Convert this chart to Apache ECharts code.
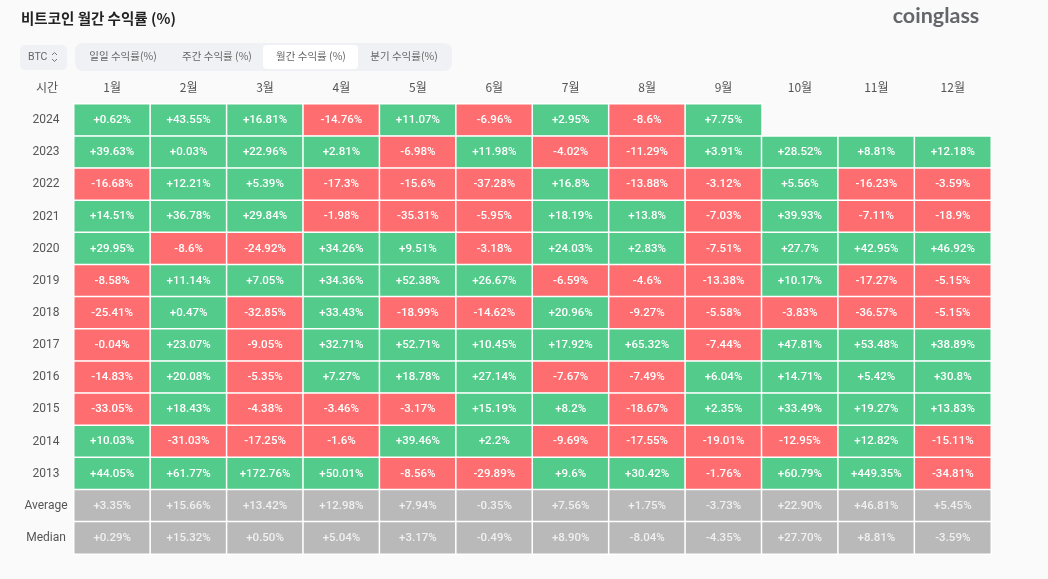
<!DOCTYPE html>
<html>
<head>
<meta charset="utf-8">
<style>
html, body { margin: 0; padding: 0; background: #fafafa; }
#main { width: 1048px; height: 579px; }
</style>
</head>
<body>
<div id="main"></div>
<script src="https://cdn.jsdelivr.net/npm/echarts@6/dist/echarts.min.js"></script>
<script>
var months = ["1월", "2월", "3월", "4월", "5월", "6월", "7월", "8월", "9월", "10월", "11월", "12월"];
var rowNames = ["2024", "2023", "2022", "2021", "2020", "2019", "2018", "2017", "2016", "2015", "2014", "2013", "Average", "Median"];
var tabs = ["일일 수익률(%)", "주간 수익률 (%)", "월간 수익률 (%)", "분기 수익률(%)"];

// 표에 보이는 그대로 (소수점 0 포함) 문자열로 둔다
var r2024 = ["+0.62", "+43.55", "+16.81", "-14.76", "+11.07", "-6.96", "+2.95", "-8.6", "+7.75", null, null, null];
var r2023 = ["+39.63", "+0.03", "+22.96", "+2.81", "-6.98", "+11.98", "-4.02", "-11.29", "+3.91", "+28.52", "+8.81", "+12.18"];
var r2022 = ["-16.68", "+12.21", "+5.39", "-17.3", "-15.6", "-37.28", "+16.8", "-13.88", "-3.12", "+5.56", "-16.23", "-3.59"];
var r2021 = ["+14.51", "+36.78", "+29.84", "-1.98", "-35.31", "-5.95", "+18.19", "+13.8", "-7.03", "+39.93", "-7.11", "-18.9"];
var r2020 = ["+29.95", "-8.6", "-24.92", "+34.26", "+9.51", "-3.18", "+24.03", "+2.83", "-7.51", "+27.7", "+42.95", "+46.92"];
var r2019 = ["-8.58", "+11.14", "+7.05", "+34.36", "+52.38", "+26.67", "-6.59", "-4.6", "-13.38", "+10.17", "-17.27", "-5.15"];
var r2018 = ["-25.41", "+0.47", "-32.85", "+33.43", "-18.99", "-14.62", "+20.96", "-9.27", "-5.58", "-3.83", "-36.57", "-5.15"];
var r2017 = ["-0.04", "+23.07", "-9.05", "+32.71", "+52.71", "+10.45", "+17.92", "+65.32", "-7.44", "+47.81", "+53.48", "+38.89"];
var r2016 = ["-14.83", "+20.08", "-5.35", "+7.27", "+18.78", "+27.14", "-7.67", "-7.49", "+6.04", "+14.71", "+5.42", "+30.8"];
var r2015 = ["-33.05", "+18.43", "-4.38", "-3.46", "-3.17", "+15.19", "+8.2", "-18.67", "+2.35", "+33.49", "+19.27", "+13.83"];
var r2014 = ["+10.03", "-31.03", "-17.25", "-1.6", "+39.46", "+2.2", "-9.69", "-17.55", "-19.01", "-12.95", "+12.82", "-15.11"];
var r2013 = ["+44.05", "+61.77", "+172.76", "+50.01", "-8.56", "-29.89", "+9.6", "+30.42", "-1.76", "+60.79", "+449.35", "-34.81"];
var rAverage = ["+3.35", "+15.66", "+13.42", "+12.98", "+7.94", "-0.35", "+7.56", "+1.75", "-3.73", "+22.90", "+46.81", "+5.45"];
var rMedian = ["+0.29", "+15.32", "+0.50", "+5.04", "+3.17", "-0.49", "+8.90", "-8.04", "-4.35", "+27.70", "+8.81", "-3.59"];

var rows = [r2024, r2023, r2022, r2021, r2020, r2019, r2018, r2017, r2016, r2015, r2014, r2013, rAverage, rMedian];

var GREEN = "#52cb8b", RED = "#fe6e70", GRAY = "#b9b9b9";
var KR = '"Noto Sans CJK KR", sans-serif';
var NUM = 'Roboto, "Noto Sans CJK KR", sans-serif';

// 히트맵 데이터 만들기
var cells = [];
rows.forEach(function(row, y) {
    row.forEach(function(v, x) {
        if (v === null) return;
        var color = y >= 12 ? GRAY : (v.charAt(0) === "+" ? GREEN : RED);
        cells.push({
            value: [x, y, Number(v)],
            text: v + "%",
            itemStyle: { color: color },
            label: { color: y >= 12 ? "#f0f0f0" : "#fff" }
        });
    });
});

// 상단 툴바
var graphics = [
    { type: "rect", shape: { x: 20, y: 45, width: 47, height: 25, r: 5 }, style: { fill: "#eff1f4" } },
    { type: "text", style: { x: 28, y: 57, text: "BTC", fill: "#666", font: "10.5px " + NUM, verticalAlign: "middle" } },
    { type: "polyline", shape: { points: [[52, 55], [54.5, 52.5], [57, 55]] }, style: { stroke: "#777", fill: "none", lineWidth: 1 } },
    { type: "polyline", shape: { points: [[52, 59], [54.5, 61.5], [57, 59]] }, style: { stroke: "#777", fill: "none", lineWidth: 1 } },
    { type: "rect", shape: { x: 75, y: 43, width: 377, height: 28, r: 8 }, style: { fill: "#eff1f4" } },
    { type: "rect", shape: { x: 263, y: 45, width: 95, height: 24, r: 4 }, style: { fill: "#fff" } },
    { type: "text", style: { x: 47, y: 87, text: "시간", fill: "#555", font: "12px " + KR, align: "center", verticalAlign: "middle" } },
    { type: "text", style: { x: 936, y: 16, text: "coinglass", fill: "#64666b", font: "bold 21.5px Lato, sans-serif", align: "center", verticalAlign: "middle" } }
];
var tabCenters = [123, 217, 311, 404];
tabs.forEach(function(t, i) {
    graphics.push({
        type: "text",
        style: { x: tabCenters[i], y: 56.5, text: t, fill: "#666", font: "10.5px " + KR, align: "center", verticalAlign: "middle" }
    });
});

var myChart = echarts.init(document.getElementById("main"));
myChart.setOption({
    backgroundColor: "#fafafa",
    animation: false,
    title: {
        text: "비트코인 월간 수익률 (%)",
        left: 16,
        top: 6,
        textStyle: { fontFamily: KR, fontSize: 14.5, fontWeight: "bold", color: "#222" }
    },
    grid: { left: 74, top: 104, width: 917, height: 450 },
    xAxis: {
        type: "category",
        position: "top",
        data: months,
        axisLine: { show: false },
        axisTick: { show: false },
        splitLine: { show: false },
        axisLabel: { color: "#555", fontSize: 12, fontFamily: KR, margin: 11 }
    },
    yAxis: {
        type: "category",
        inverse: true,
        data: rowNames,
        axisLine: { show: false },
        axisTick: { show: false },
        splitLine: { show: false },
        axisLabel: { color: "#555", fontSize: 12, fontFamily: NUM, align: "center", margin: 28 }
    },
    graphic: graphics,
    series: [{
        type: "heatmap",
        data: cells,
        itemStyle: { borderColor: "#fff", borderWidth: 1.5 },
        emphasis: { disabled: true },
        label: {
            show: true,
            fontSize: 11.5,
            fontWeight: 500,
            fontFamily: NUM,
            formatter: function(p) { return p.data.text; }
        }
    }]
});
</script>
</body>
</html>
